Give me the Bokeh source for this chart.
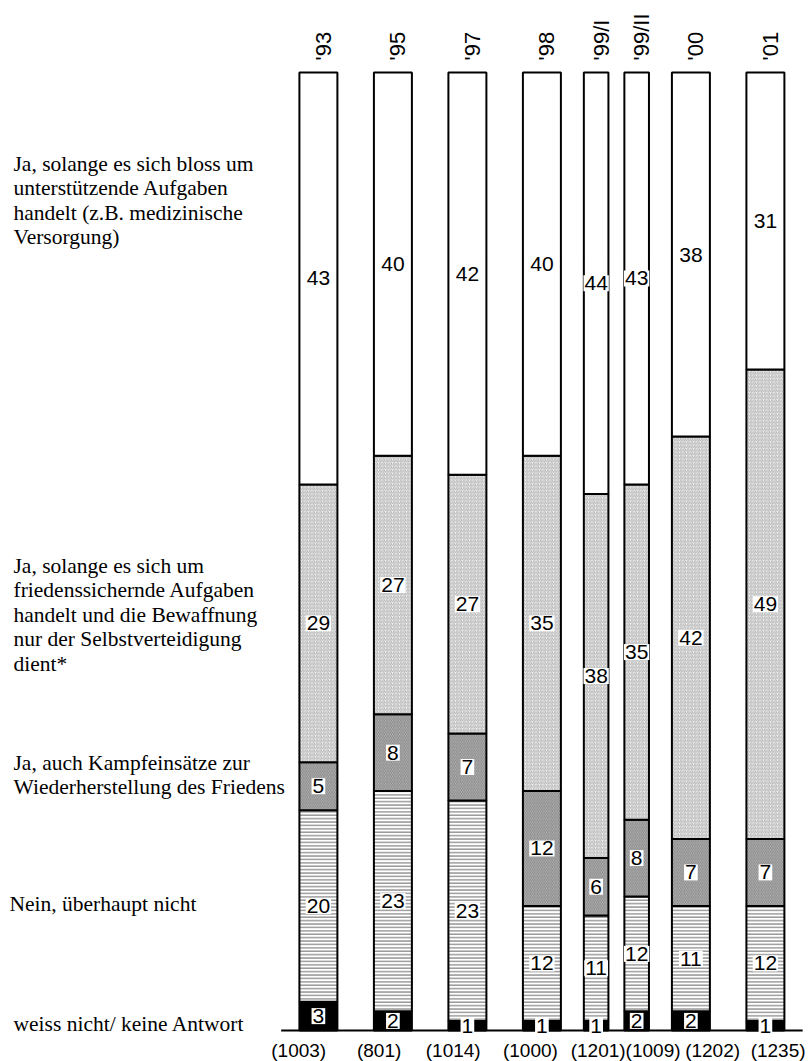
import math
from bokeh.plotting import figure
from bokeh.models import ColumnDataSource, Range1d
from bokeh.core.properties import value
from bokeh.embed import file_html
from bokeh.resources import INLINE

# ---------------- data ----------------
years = ["'93", "'95", "'97", "'98", "'99/I", "'99/II", "'00", "'01"]
samples = ["(1003)", "(801)", "(1014)", "(1000)", "(1201)", "(1009)", "(1202)", "(1235)"]

weiss_nicht = [3, 2, 1, 1, 1, 2, 2, 1]
nein = [20, 23, 23, 12, 11, 12, 11, 12]
kampf = [5, 8, 7, 12, 6, 8, 7, 7]
frieden = [29, 27, 27, 35, 38, 35, 42, 49]
unterstuetzend = [43, 40, 42, 40, 44, 43, 38, 31]

series_values = [weiss_nicht, nein, kampf, frieden, unterstuetzend]
series_labels = [
    ["weiss nicht/ keine Antwort"],
    ["Nein, überhaupt nicht"],
    ["Ja, auch Kampfeinsätze zur", "Wiederherstellung des Friedens"],
    ["Ja, solange es sich um", "friedenssichernde Aufgaben",
     "handelt und die Bewaffnung", "nur der Selbstverteidigung", "dient*"],
    ["Ja, solange es sich bloss um", "unterstützende Aufgaben",
     "handelt (z.B. medizinische", "Versorgung)"],
]

# ---------------- styles / layout ----------------
W, H = 811, 1061
PX_X = 74.5          # pixels per slot
SLOT0_PX = 317.9     # x pixel of first slot centre
Y0_PX = 1030         # pixel row of the 0 % baseline
PX_Y = 9.58          # pixels per percent

styles = [
    dict(fill_color="black", hatch_pattern=None, hatch_color=None),
    dict(fill_color="white", hatch_pattern="-", hatch_color="#9a9a9a", hatch_scale=3.4, hatch_weight=1.6),
    dict(fill_color="#c0c0c0", hatch_pattern="\\", hatch_color="#858585", hatch_scale=3.5, hatch_weight=1),
    dict(fill_color="#f6f6f6", hatch_pattern="/", hatch_color="#b2b2b2", hatch_scale=3.5, hatch_weight=1),
    dict(fill_color="white", hatch_pattern=None, hatch_color=None),
]
legend_first_baseline_px = [1023, 903, 762, 565, 163]
legend_x_px = [13, 9, 13, 13, 13]
legend_line_h = 24.6
sample_offsets_px = [-19.7, -13.8, -14.2, -11.5, 2, 16.4, 21.7, 12.7]

SANS = value("Liberation Sans")
SERIF = value("Liberation Serif")

# slot positions: the two '99 surveys share one slot with narrower bars
xs, widths = [], []
slot = -1
prev99 = False
for y in years:
    is99 = y.startswith("'99")
    if not (is99 and prev99):
        slot += 1
    prev99 = is99
    xs.append(slot)
n_slots = slot + 1
for i, y in enumerate(years):
    if y.startswith("'99"):
        sub = -0.272 if y.endswith("/I") else 0.272
        xs[i] = xs[i] + sub
        widths.append(0.33)
    else:
        widths.append(0.51)

x_start = -SLOT0_PX / PX_X
x_end = (W - SLOT0_PX) / PX_X
y_end = Y0_PX / PX_Y
y_start = -(H - Y0_PX) / PX_Y

p = figure(width=W, height=H, x_range=Range1d(x_start, x_end), y_range=Range1d(y_start, y_end),
           output_backend="svg", toolbar_location=None, min_border=0)
p.axis.visible = False
p.grid.visible = False
p.outline_line_color = None

# stacked segments
bottom = [0.0] * len(years)
lab_x, lab_y, lab_t = [], [], []
for vals, st in zip(series_values, styles):
    top = [b + v for b, v in zip(bottom, vals)]
    src = ColumnDataSource(dict(x=xs, w=widths, b=bottom, t=top))
    kw = dict(fill_color=st["fill_color"], line_color="black", line_width=2)
    if st["hatch_pattern"]:
        kw.update(hatch_pattern=st["hatch_pattern"], hatch_color=st["hatch_color"],
                  hatch_scale=st["hatch_scale"], hatch_weight=st["hatch_weight"])
    p.vbar(x="x", width="w", bottom="b", top="t", source=src, **kw)
    for i in range(len(years)):
        lab_x.append(xs[i])
        lab_y.append((bottom[i] + top[i]) / 2)
        lab_t.append(str(vals[i]))
    bottom = top

# baseline
p.segment(x0=[-0.5], y0=[0], x1=[n_slots - 0.5], y1=[0], line_color="black", line_width=2)

# value labels
p.text(x=lab_x, y=lab_y, text=lab_t, text_font=SANS, text_font_size="21px",
       text_align="center", text_baseline="middle", text_color="black",
       background_fill_color="white", padding=1)

# year labels (rotated)
p.text(x=xs, y=[100] * len(xs), text=years, angle=math.pi / 2, x_offset=5, y_offset=-12,
       text_font=SANS, text_font_size="22px", text_align="left", text_baseline="middle")

# sample sizes
p.text(x=xs, y=[0] * len(xs), text=samples, x_offset=sample_offsets_px, y_offset=20,
       text_font=SANS, text_font_size="19px", text_align="center", text_baseline="middle")

# category labels on the left
lx, ly, lt, lo = [], [], [], []
for lines, base, xpx in zip(series_labels, legend_first_baseline_px, legend_x_px):
    for j, line in enumerate(lines):
        lx.append(x_start + xpx / PX_X)
        ly.append((Y0_PX - base) / PX_Y)
        lt.append(line)
        lo.append(j * legend_line_h)
p.text(x=lx, y=ly, text=lt, y_offset=lo, text_font=SERIF, text_font_size="21.5px",
       text_align="left", text_baseline="alphabetic", text_color="black")

open("out.html", "w").write(file_html(p, INLINE))
